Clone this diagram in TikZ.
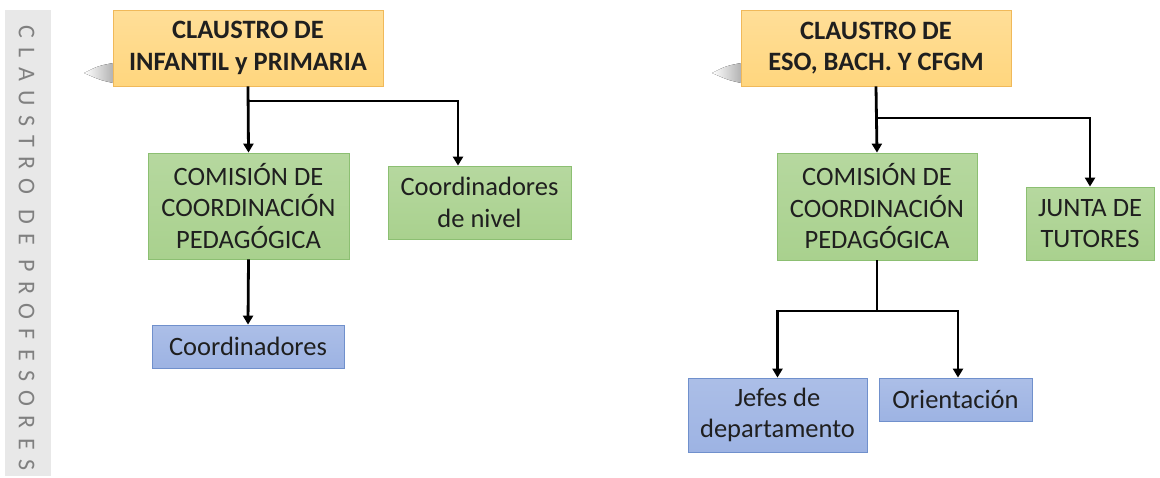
\documentclass[tikz,border=0pt]{standalone}
\usepackage{fontspec}
\setmainfont{Carlito}
\usetikzlibrary{arrows.meta,positioning}
\definecolor{naranja}{HTML}{FFD67E}
\definecolor{naranjaborde}{HTML}{F0B95A}
\definecolor{verde}{HTML}{A9D18E}
\definecolor{verdeborde}{HTML}{8CBF72}
\definecolor{azul}{HTML}{9DB3E3}
\definecolor{azulborde}{HTML}{7090CC}
\definecolor{franja}{HTML}{E8E8E8}
\begin{document}
\begin{tikzpicture}[x=1pt,y=-1pt,
  caja/.style={draw,line width=0.8pt,align=center,inner sep=0pt,text=black!88,
    font=\fontsize{26.5}{31.5}\selectfont},
  claustro/.style={caja,top color=naranja!80!white,bottom color=naranja,draw=naranjaborde,
    font=\fontsize{26.5}{31.5}\selectfont\bfseries,minimum width=270pt,minimum height=76pt},
  comision/.style={caja,top color=verde!85!white,bottom color=verde,draw=verdeborde},
  cargo/.style={caja,top color=azul!85!white,bottom color=azul,draw=azulborde},
  flecha/.style={line width=2.8pt,-{Triangle[length=9pt,width=10pt]}},
  sombra/.style={left color=white,right color=black!30}]
  % Rahmen
  \useasboundingbox (0,0) rectangle (1160,477);
  % Franja lateral
  \fill[franja] (5,10) rectangle (51,476);
  \node[rotate=-90,text=black!50,font=\fontsize{24}{24}\selectfont\addfontfeatures{LetterSpace=39}] (titulo) at (26.5,248) {CLAUSTRO DE PROFESORES};
  % Sombras
  \fill[sombra] (84,73) .. controls (98,66) .. (113,63) -- (113,83) .. controls (100,80) .. (84,73) -- cycle;
  \fill[sombra] (712,73) .. controls (726,66) .. (741,63) -- (741,83) .. controls (728,80) .. (712,73) -- cycle;
  % Infantil y Primaria
  \node[claustro] (claustroIP) at (248,48) {CLAUSTRO DE\\INFANTIL y PRIMARIA};
  \node[comision,minimum width=201pt,minimum height=106pt] (comisionIP) at (248.5,206) {COMISIÓN DE\\COORDINACIÓN\\PEDAGÓGICA};
  \node[comision,minimum width=183pt,minimum height=73pt] (nivel) at (479.5,202.5) {Coordinadores\\de nivel};
  \node[cargo,minimum width=192pt,minimum height=43pt] (coordIP) at (248,346.5) {Coordinadores};
  % ESO, Bach. y CFGM
  \node[claustro] (claustroES) at (876,48) {CLAUSTRO DE\\ESO, BACH. Y CFGM};
  \node[comision,minimum width=200pt,minimum height=107pt] (comisionES) at (877,206.5) {COMISIÓN DE\\COORDINACIÓN\\PEDAGÓGICA};
  \node[comision,minimum width=128pt,minimum height=73pt] (junta) at (1090,223.5) {JUNTA DE\\TUTORES};
  \node[cargo,minimum width=179pt,minimum height=74pt] (jefes) at (777.5,415) {Jefes de\\departamento};
  \node[cargo,minimum width=153pt,minimum height=43pt] (orient) at (955.5,399.5) {Orientación};
  % Linien, Pfeile
  \coordinate (ramaIP) at (248.5,101);
  \coordinate (ramaES) at (877,118);
  \coordinate (ramaDep) at (877,311);
  \draw[flecha] (claustroIP.south) -- (comisionIP.north);
  \draw[flecha] ([xshift=-1.4pt]ramaIP) -| ([xshift=-21.5pt]nivel.north);
  \draw[flecha] (comisionIP.south) -- (coordIP.north);
  \draw[flecha] (claustroES.south) -- (comisionES.north);
  \draw[flecha] ([xshift=-1.4pt]ramaES) -| (junta.north);
  \draw[line width=2.8pt] (comisionES.south) -- (ramaDep);
  \draw[flecha] ([xshift=1.4pt]ramaDep) -| (jefes.north);
  \draw[flecha] ([xshift=-1.4pt]ramaDep) -| ([xshift=2.5pt]orient.north);
\end{tikzpicture}
\end{document}
